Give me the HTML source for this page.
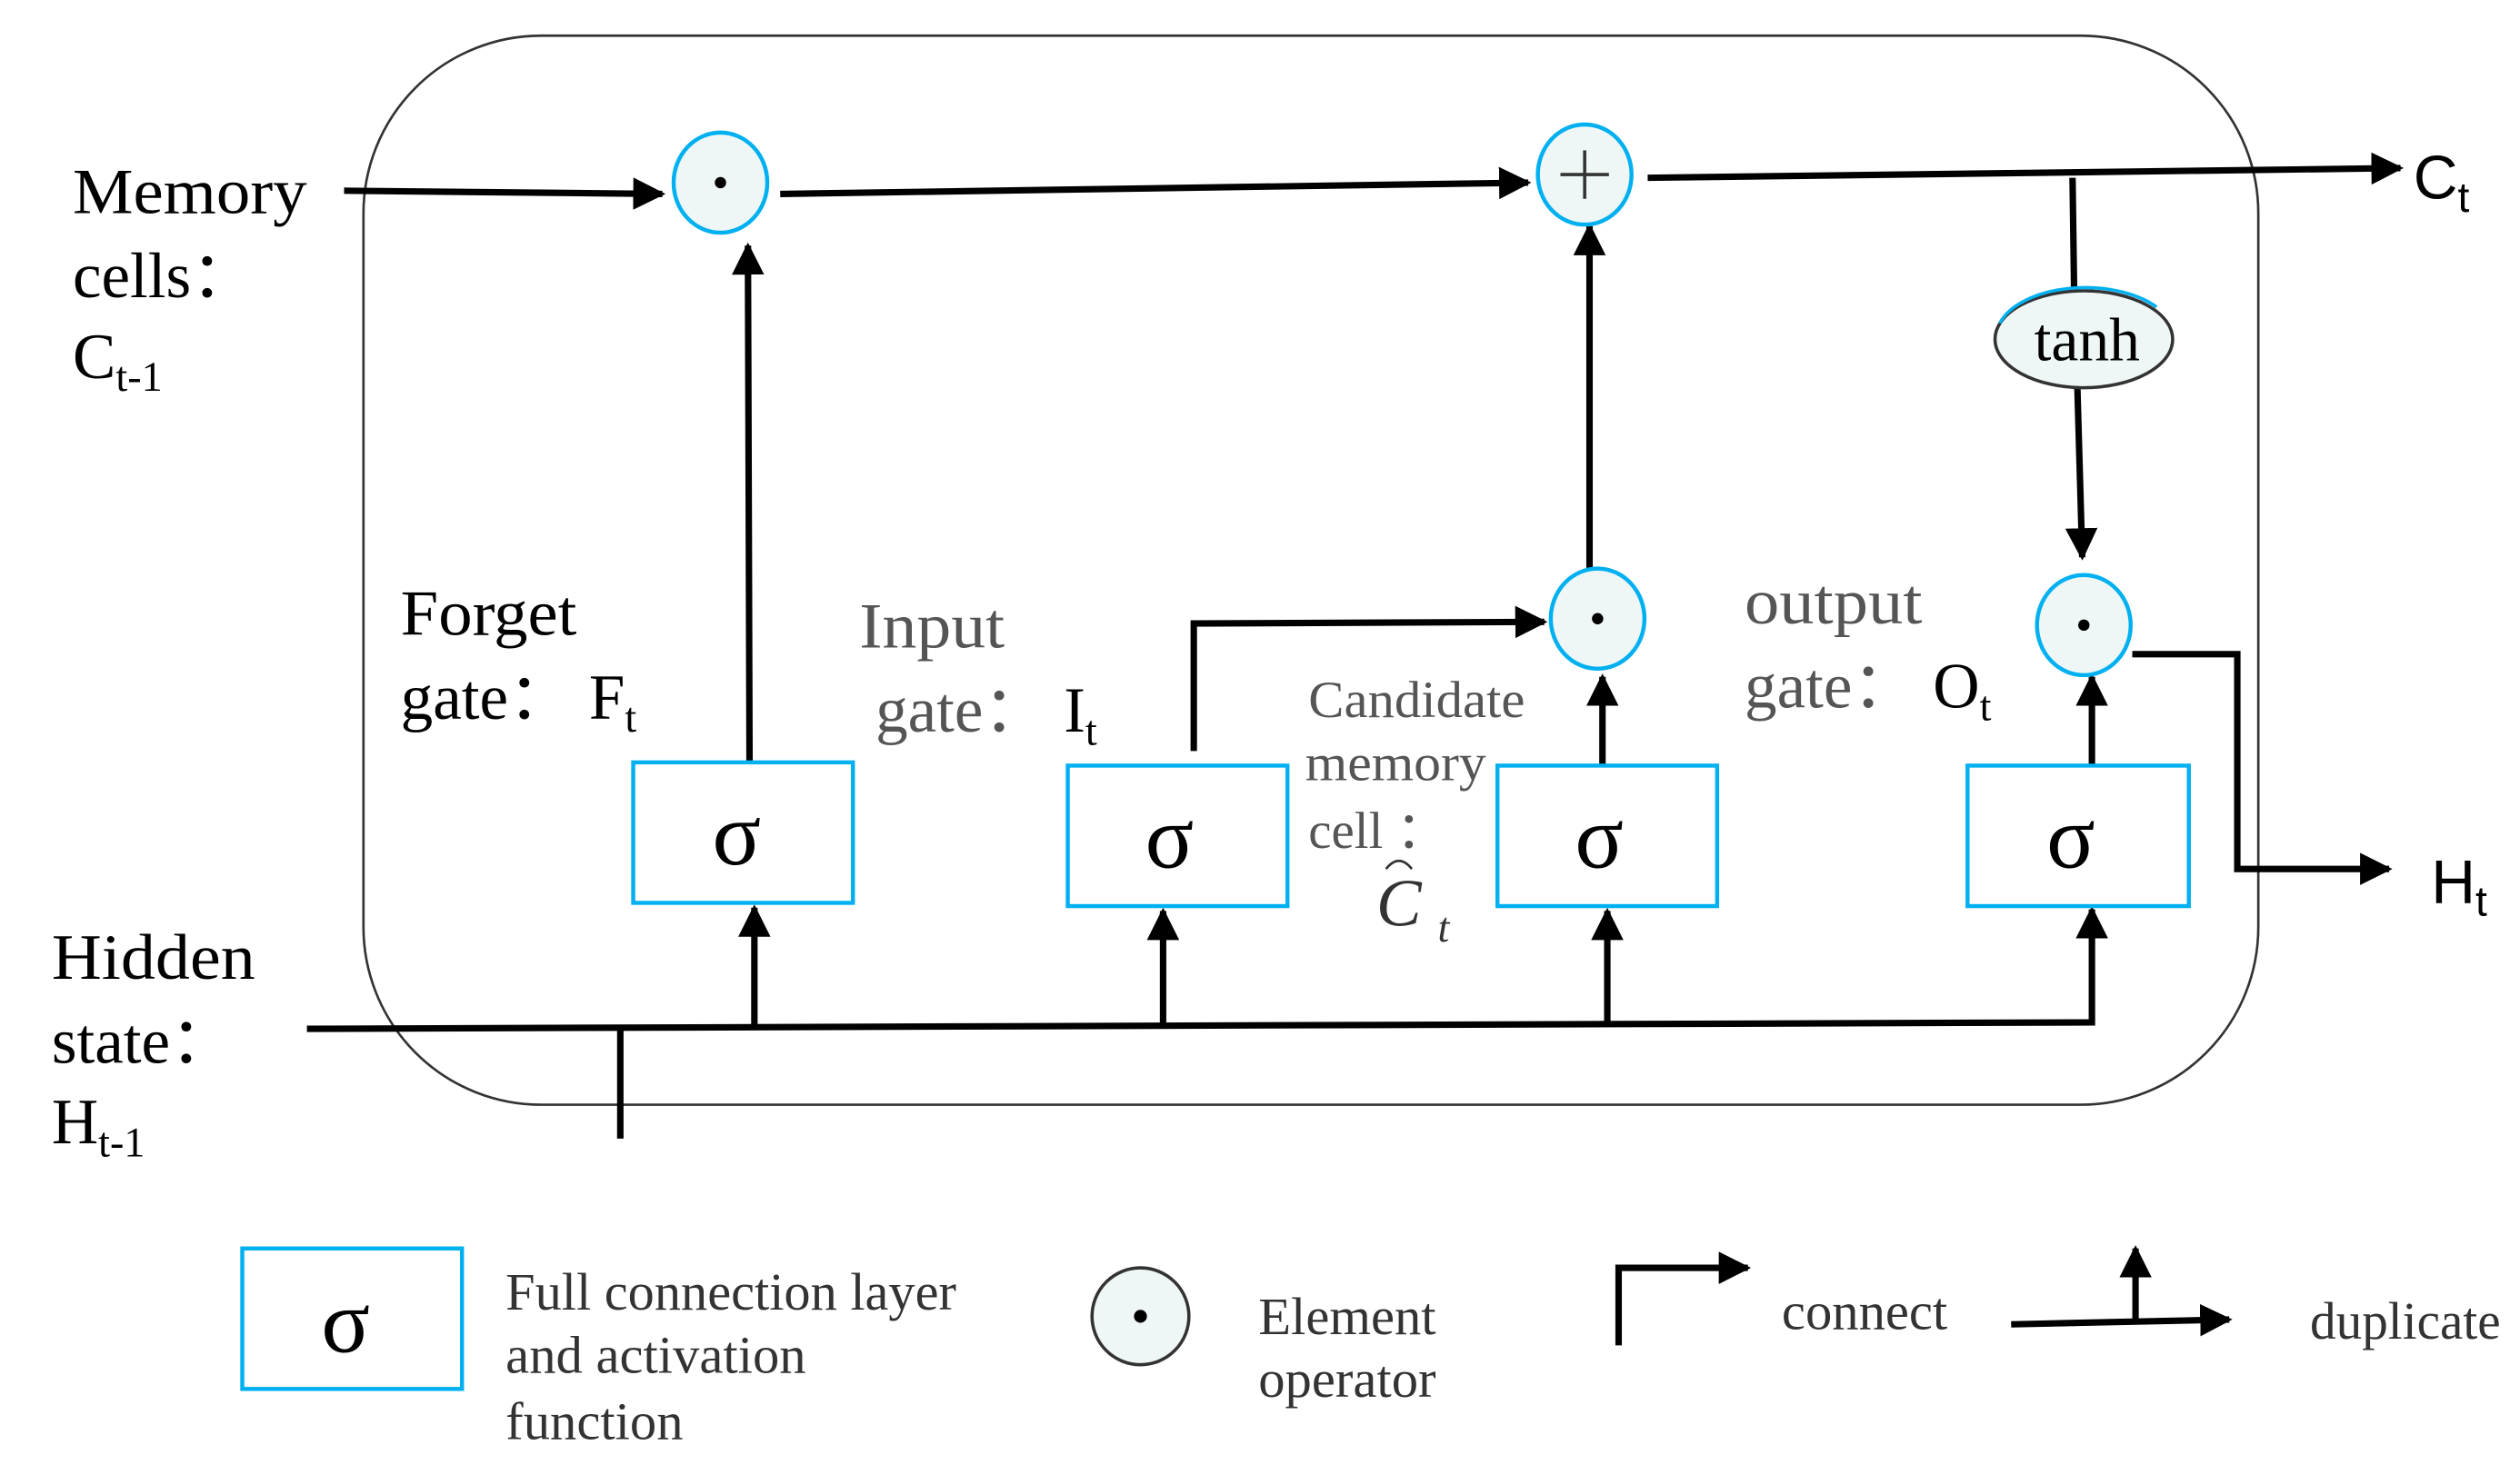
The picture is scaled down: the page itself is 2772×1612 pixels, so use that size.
<!DOCTYPE html>
<html><head><meta charset="utf-8"><style>html,body{margin:0;padding:0;background:#fff}svg{display:block}</style></head>
<body>
<svg width="2772" height="1612" viewBox="0 0 1560 907" xmlns="http://www.w3.org/2000/svg" font-family="Liberation Serif, serif">
<defs>
<marker id="a" viewBox="0 0 10 10" refX="9" refY="5" markerWidth="5" markerHeight="5" orient="auto-start-reverse"><path d="M0,0 L10,5 L0,10 z" fill="#000"/></marker>
</defs>
<rect x="225" y="22" width="1173" height="662" rx="110" ry="110" fill="none" stroke="#333" stroke-width="1.5"/>
<g stroke="#000" stroke-width="4" fill="none">
<line x1="213" y1="118" x2="410" y2="120" marker-end="url(#a)"/>
<line x1="483" y1="120" x2="946" y2="113" marker-end="url(#a)"/>
<line x1="1020" y1="110" x2="1486" y2="104" marker-end="url(#a)"/>
<line x1="1283" y1="110" x2="1284" y2="182"/>
<line x1="1286" y1="240" x2="1289" y2="345" marker-end="url(#a)"/>
<polyline points="1320,405 1385,405 1385,538 1479,538" marker-end="url(#a)"/>
<line x1="464" y1="472" x2="463" y2="152" marker-end="url(#a)"/>
<polyline points="739,465 739,386 956,385" marker-end="url(#a)"/>
<line x1="992" y1="474" x2="992" y2="419" marker-end="url(#a)"/>
<line x1="984" y1="352" x2="984" y2="140" marker-end="url(#a)"/>
<line x1="1295" y1="474" x2="1295" y2="419" marker-end="url(#a)"/>
<polyline points="190,637 1295,633 1295,563" marker-end="url(#a)"/>
<line x1="467" y1="637" x2="467" y2="562" marker-end="url(#a)"/>
<line x1="720" y1="636" x2="720" y2="564" marker-end="url(#a)"/>
<line x1="995" y1="635" x2="995" y2="564" marker-end="url(#a)"/>
<line x1="384" y1="637" x2="384" y2="705"/>
<polyline points="1002,833 1002,785 1082,785" marker-end="url(#a)"/>
<line x1="1245" y1="820" x2="1380" y2="817" marker-end="url(#a)"/>
<line x1="1322" y1="818" x2="1322" y2="773" marker-end="url(#a)"/>
</g>
<g fill="#eef6f6" stroke="#00b0f0" stroke-width="2.5">
<ellipse cx="446" cy="113" rx="29" ry="31"/>
<ellipse cx="981" cy="108" rx="29" ry="31"/>
<ellipse cx="989" cy="383" rx="29" ry="31"/>
<ellipse cx="1290" cy="387" rx="29" ry="31"/>
</g>
<ellipse cx="706" cy="815" rx="30" ry="30" fill="#eef6f6" stroke="#333" stroke-width="2"/>
<g fill="#000">
<circle cx="446" cy="113" r="3.5"/><circle cx="989" cy="383" r="3.5"/><circle cx="1290" cy="387" r="3.5"/><circle cx="706" cy="815" r="4"/>
</g>
<g stroke="#333" stroke-width="2"><line x1="966" y1="108" x2="996" y2="108"/><line x1="981" y1="93" x2="981" y2="123"/></g>
<ellipse cx="1290" cy="210" rx="55" ry="30" fill="#eef6f6" stroke="#333" stroke-width="2"/>
<path d="M1238,200 A55,30 0 0 1 1335,190" fill="none" stroke="#00b0f0" stroke-width="2"/>
<text x="1292" y="223" font-size="38" text-anchor="middle">tanh</text>
<g fill="#fff" stroke="#00b0f0" stroke-width="2.5">
<rect x="392" y="472" width="136" height="87"/>
<rect x="661" y="474" width="136" height="87"/>
<rect x="927" y="474" width="136" height="87"/>
<rect x="1218" y="474" width="137" height="87"/>
<rect x="150" y="773" width="136" height="87"/>
</g>
<g font-size="56" text-anchor="middle">
<text x="456" y="535">σ</text><text x="724" y="537">σ</text><text x="990" y="537">σ</text><text x="1282" y="537">σ</text><text x="214" y="837">σ</text>
</g>
<g font-size="40">
<text x="45" y="132" textLength="145" lengthAdjust="spacingAndGlyphs">Memory</text>
<text x="45" y="184">cells：</text>
<text x="45" y="234">C<tspan font-size="26" dy="8">t-1</tspan></text>
<text x="32" y="606" textLength="126" lengthAdjust="spacingAndGlyphs">Hidden</text>
<text x="32" y="658">state：</text>
<text x="32" y="708">H<tspan font-size="26" dy="8">t-1</tspan></text>
<text x="248" y="393" textLength="109" lengthAdjust="spacingAndGlyphs">Forget</text>
<text x="248" y="445">gate： F<tspan font-size="26" dy="8">t</tspan></text>
<text x="532" y="401" fill="#555" textLength="90" lengthAdjust="spacingAndGlyphs">Input</text>
<text x="542" y="453" fill="#555">gate： <tspan fill="#000">I</tspan><tspan fill="#000" font-size="26" dy="8">t</tspan></text>
<text x="1080" y="386" fill="#555" textLength="110" lengthAdjust="spacingAndGlyphs">output</text>
<text x="1080" y="438" fill="#555">gate： <tspan fill="#000">O</tspan><tspan fill="#000" font-size="26" dy="8">t</tspan></text>
</g>
<g font-size="32" fill="#555">
<text x="810" y="444" textLength="134" lengthAdjust="spacingAndGlyphs">Candidate</text>
<text x="808" y="483" textLength="112" lengthAdjust="spacingAndGlyphs">memory</text>
<text x="810" y="525">cell ：</text>
</g>
<text x="852" y="573" font-size="42" font-style="italic" fill="#333">C<tspan font-size="26" dx="10" dy="10">t</tspan></text>
<path d="M858,538 Q866,528 874,538" fill="none" stroke="#333" stroke-width="1.5"/>
<g font-family="Liberation Sans, sans-serif" font-size="38">
<text x="1494" y="123">C<tspan font-size="26" dy="8">t</tspan></text>
<text x="1505" y="559">H<tspan font-size="26" dy="8">t</tspan></text>
</g>
<g font-size="33" fill="#333">
<text x="313" y="811" textLength="279" lengthAdjust="spacingAndGlyphs">Full  connection layer</text>
<text x="313" y="850">and activation</text>
<text x="313" y="891">function</text>
<text x="779" y="826">Element</text>
<text x="779" y="865">operator</text>
<text x="1103" y="823">connect</text>
<text x="1430" y="829" textLength="118" lengthAdjust="spacingAndGlyphs">duplicate</text>
</g>
</svg>
</body></html>
